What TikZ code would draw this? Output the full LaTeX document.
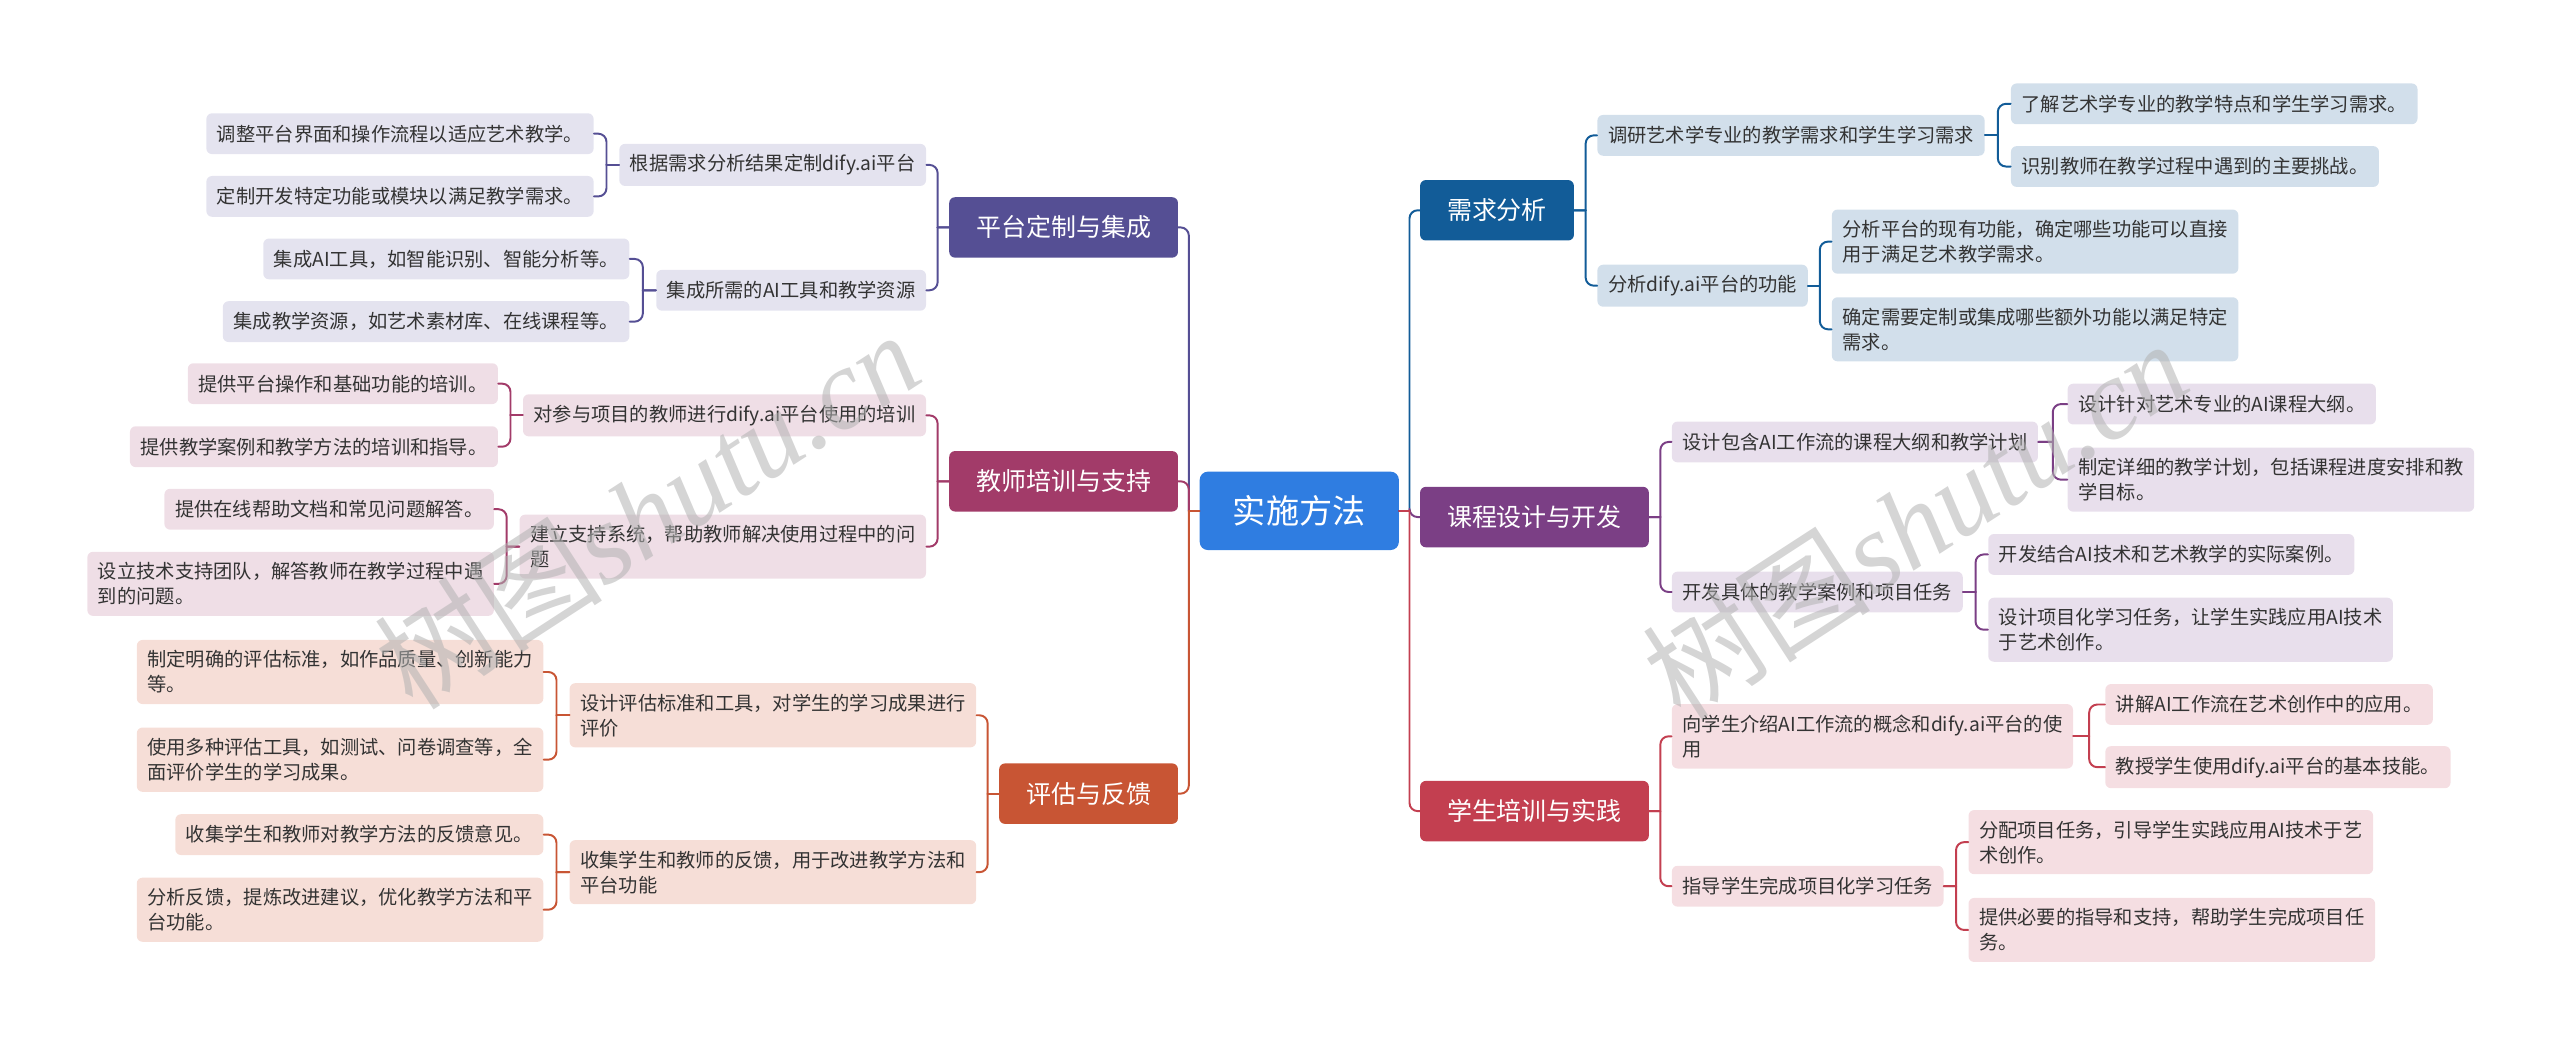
\documentclass[tikz,border=0pt]{standalone}
\usepackage{fontspec}
\newfontfamily\cjk{Noto Sans CJK SC}
\newfontfamily\wmserif{Liberation Serif}
\usetikzlibrary{calc}
\definecolor{cRoot}{HTML}{2F7DE1}
\definecolor{cPlat}{HTML}{554F94}
\definecolor{cTeach}{HTML}{A23B69}
\definecolor{cEval}{HTML}{C85534}
\definecolor{cNeed}{HTML}{125C98}
\definecolor{cCourse}{HTML}{7B3F85}
\definecolor{cStud}{HTML}{C33F50}
\definecolor{lPlat}{HTML}{E4E3EF}
\definecolor{lTeach}{HTML}{EFDEE6}
\definecolor{lEval}{HTML}{F6DED7}
\definecolor{lNeed}{HTML}{D2DFEB}
\definecolor{lCourse}{HTML}{E8DFEC}
\definecolor{lStud}{HTML}{F5DEE2}
\definecolor{txt}{HTML}{333333}
\begin{document}
\begin{tikzpicture}[x=1pt, y=-1pt, line join=round, line cap=round,
	rootbox/.style={fill=cRoot, text=white, rounded corners=5pt, minimum width=122pt, minimum height=48pt, font=\cjk\fontsize{20.3}{24}\selectfont},
	topic/.style={text=white, rounded corners=3.5pt, inner xsep=16.5pt, minimum height=37pt, font=\cjk\fontsize{15.3}{18}\selectfont},
	leaf/.style={text=txt, rounded corners=3.5pt, inner xsep=6.5pt, inner ysep=6.5pt, minimum height=25pt, align=left, font=\cjk\fontsize{11.8}{15.3}\selectfont},
	conn/.style={line width=1.2pt},
	wmark/.style={rotate=33, text=black!30, text opacity=.55, font=\cjk\fontsize{70}{78}\selectfont}]

	\useasboundingbox (0,0) rectangle (1568,641.3);

	% Nút gốc
	\node[rootbox] (root) at (795.8,312.9) {实施方法};

	% Nhánh bên trái
	\node[topic, fill=cPlat, anchor=east] (plat) at (721.7,139.3) {平台定制与集成};
	\node[topic, fill=cTeach, anchor=east] (teach) at (721.7,294.8) {教师培训与支持};
	\node[topic, fill=cEval, anchor=east] (eval) at (721.7,486.1) {评估与反馈};

	\node[leaf, fill=lPlat, anchor=east] (p1) at (567.4,101) {根据需求分析结果定制dify.ai平台};
	\node[leaf, fill=lPlat, anchor=east] (p2) at (567.4,177.8) {集成所需的AI工具和教学资源};
	\node[leaf, fill=lTeach, anchor=east] (t1) at (567.4,254.4) {对参与项目的教师进行dify.ai平台使用的培训};
	\node[leaf, fill=lTeach, anchor=east] (t2) at (567.4,334.8) {建立支持系统，帮助教师解决使用过程中的问\\题};
	\node[leaf, fill=lEval, anchor=east] (e1) at (598.1,438.1) {设计评估标准和工具，对学生的学习成果进行\\评价};
	\node[leaf, fill=lEval, anchor=east] (e2) at (598.1,534.2) {收集学生和教师的反馈，用于改进教学方法和\\平台功能};

	\node[leaf, fill=lPlat, anchor=east] (p11) at (363.8,81.9) {调整平台界面和操作流程以适应艺术教学。};
	\node[leaf, fill=lPlat, anchor=east] (p12) at (363.8,120.3) {定制开发特定功能或模块以满足教学需求。};
	\node[leaf, fill=lPlat, anchor=east] (p21) at (385.7,158.6) {集成AI工具，如智能识别、智能分析等。};
	\node[leaf, fill=lPlat, anchor=east] (p22) at (385.7,197) {集成教学资源，如艺术素材库、在线课程等。};
	\node[leaf, fill=lTeach, anchor=east] (t11) at (305.2,235) {提供平台操作和基础功能的培训。};
	\node[leaf, fill=lTeach, anchor=east] (t12) at (305.2,273.6) {提供教学案例和教学方法的培训和指导。};
	\node[leaf, fill=lTeach, anchor=east] (t21) at (302.7,311.9) {提供在线帮助文档和常见问题解答。};
	\node[leaf, fill=lTeach, anchor=east] (t22) at (302.7,357.6) {设立技术支持团队，解答教师在教学过程中遇\\到的问题。};
	\node[leaf, fill=lEval, anchor=east] (e11) at (333,411.6) {制定明确的评估标准，如作品质量、创新能力\\等。};
	\node[leaf, fill=lEval, anchor=east] (e12) at (333,465.3) {使用多种评估工具，如测试、问卷调查等，全\\面评价学生的学习成果。};
	\node[leaf, fill=lEval, anchor=east] (e21) at (333,511.2) {收集学生和教师对教学方法的反馈意见。};
	\node[leaf, fill=lEval, anchor=east] (e22) at (333,557.2) {分析反馈，提炼改进建议，优化教学方法和平\\台功能。};

	% Nhánh bên phải
	\node[topic, fill=cNeed, anchor=west] (need) at (869.6,128.8) {需求分析};
	\node[topic, fill=cCourse, anchor=west] (course) at (869.6,316.7) {课程设计与开发};
	\node[topic, fill=cStud, anchor=west] (stud) at (869.6,496.8) {学生培训与实践};

	\node[leaf, fill=lNeed, anchor=west] (n1) at (978.2,82.9) {调研艺术学专业的教学需求和学生学习需求};
	\node[leaf, fill=lNeed, anchor=west] (n2) at (978.2,175) {分析dify.ai平台的功能};
	\node[leaf, fill=lCourse, anchor=west] (c1) at (1023.8,270.7) {设计包含AI工作流的课程大纲和教学计划};
	\node[leaf, fill=lCourse, anchor=west] (c2) at (1023.8,362.6) {开发具体的教学案例和项目任务};
	\node[leaf, fill=lStud, anchor=west] (s1) at (1023.8,451) {向学生介绍AI工作流的概念和dify.ai平台的使\\用};
	\node[leaf, fill=lStud, anchor=west] (s2) at (1023.8,542.8) {指导学生完成项目化学习任务};

	\node[leaf, fill=lNeed, anchor=west] (n11) at (1231.5,63.6) {了解艺术学专业的教学特点和学生学习需求。};
	\node[leaf, fill=lNeed, anchor=west] (n12) at (1231.5,102) {识别教师在教学过程中遇到的主要挑战。};
	\node[leaf, fill=lNeed, anchor=west] (n21) at (1121.8,148) {分析平台的现有功能，确定哪些功能可以直接\\用于满足艺术教学需求。};
	\node[leaf, fill=lNeed, anchor=west] (n22) at (1121.8,201.7) {确定需要定制或集成哪些额外功能以满足特定\\需求。};
	\node[leaf, fill=lCourse, anchor=west] (c11) at (1266.2,247.5) {设计针对艺术专业的AI课程大纲。};
	\node[leaf, fill=lCourse, anchor=west] (c12) at (1266.2,293.8) {制定详细的教学计划，包括课程进度安排和教\\学目标。};
	\node[leaf, fill=lCourse, anchor=west] (c21) at (1217.6,339.6) {开发结合AI技术和艺术教学的实际案例。};
	\node[leaf, fill=lCourse, anchor=west] (c22) at (1217.6,385.7) {设计项目化学习任务，让学生实践应用AI技术\\于艺术创作。};
	\node[leaf, fill=lStud, anchor=west] (s11) at (1289.3,431.5) {讲解AI工作流在艺术创作中的应用。};
	\node[leaf, fill=lStud, anchor=west] (s12) at (1289.3,469.9) {教授学生使用dify.ai平台的基本技能。};
	\node[leaf, fill=lStud, anchor=west] (s21) at (1205.5,515.8) {分配项目任务，引导学生实践应用AI技术于艺\\术创作。};
	\node[leaf, fill=lStud, anchor=west] (s22) at (1205.5,569.6) {提供必要的指导和支持，帮助学生完成项目任\\务。};

	% Đường nối bên trái
	\foreach \a/\b/\c in {root/plat/cPlat, root/teach/cTeach, root/eval/cEval,
		plat/p1/cPlat, plat/p2/cPlat, teach/t1/cTeach, teach/t2/cTeach, eval/e1/cEval, eval/e2/cEval,
		p1/p11/cPlat, p1/p12/cPlat, p2/p21/cPlat, p2/p22/cPlat,
		t1/t11/cTeach, t1/t12/cTeach, t2/t21/cTeach, t2/t22/cTeach,
		e1/e11/cEval, e1/e12/cEval, e2/e21/cEval, e2/e22/cEval} {
		\coordinate (m) at ($(\a.west)!.5!(\a.west -| \b.east)$);
		\draw[conn, \c] (\a.west) -- (m);
		\draw[conn, \c, rounded corners=5pt] (m) |- (\b.east);
	}
	% Đường nối bên phải
	\foreach \a/\b/\c in {root/need/cNeed, root/course/cCourse, root/stud/cStud,
		need/n1/cNeed, need/n2/cNeed, course/c1/cCourse, course/c2/cCourse, stud/s1/cStud, stud/s2/cStud,
		n1/n11/cNeed, n1/n12/cNeed, n2/n21/cNeed, n2/n22/cNeed,
		c1/c11/cCourse, c1/c12/cCourse, c2/c21/cCourse, c2/c22/cCourse,
		s1/s11/cStud, s1/s12/cStud, s2/s21/cStud, s2/s22/cStud} {
		\coordinate (m) at ($(\a.east)!.5!(\a.east -| \b.west)$);
		\draw[conn, \c] (\a.east) -- (m);
		\draw[conn, \c, rounded corners=5pt] (m) |- (\b.west);
	}

	% Dấu chìm
	\node[wmark] (wm1) at (396,312) {树图\wmserif\itshape shutu.cn};
	\node[wmark] (wm2) at (1173,318) {树图\wmserif\itshape shutu.cn};

\end{tikzpicture}
\end{document}
